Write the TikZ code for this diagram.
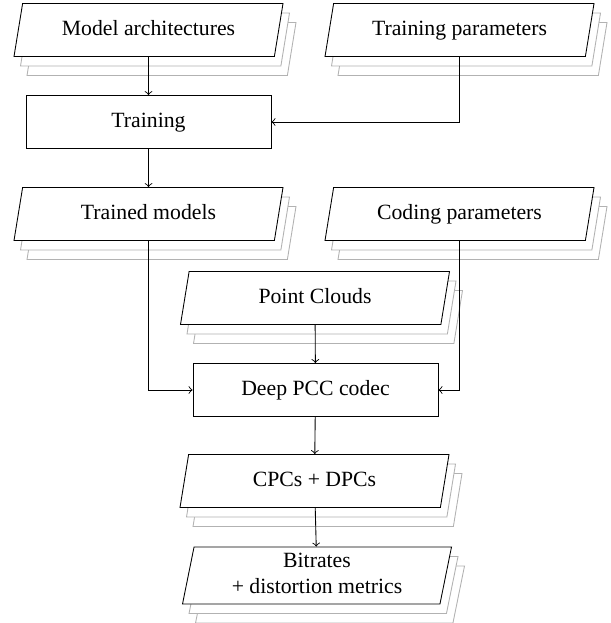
\documentclass[tikz,border=0pt]{standalone}
\usepackage{fontspec}
\setmainfont{Liberation Serif}
\usetikzlibrary{shapes.geometric,shadows}
\newlength\pxu \setlength\pxu{0.46pt}
\begin{document}
\begin{tikzpicture}[x=\pxu,y=-\pxu,
 io/.style={trapezium, trapezium left angle=78, trapezium right angle=102,
   trapezium stretches body, draw, fill=white, line width=0.4pt,
   minimum width=269\pxu, minimum height=53\pxu, align=center,
   double copy shadow={shadow xshift=6.5\pxu, shadow yshift=-9.5\pxu, draw=black!30, fill=white}},
 proc/.style={rectangle, draw, fill=white, minimum width=245\pxu, minimum height=53\pxu},
 conn/.style={->}]
\useasboundingbox (0,0) rectangle (611,623);
\node[io] (ma) at (148.5,30) {\strut Model architectures};
\node[io] (tp) at (459.5,30) {\strut Training parameters};
\node[proc] (tr) at (148.5,122) {\strut Training};
\node[io] (tm) at (148.5,214) {\strut Trained models};
\node[io] (cp) at (459.5,214) {\strut Coding parameters};
\node[io] (pc) at (315,298) {\strut Point Clouds};
\node[proc] (dp) at (315.5,390) {\strut Deep PCC codec};
\node[io] (cd) at (314.5,481) {\strut CPCs + DPCs};
\node[io, minimum height=57\pxu, inner ysep=0.5pt] (br) at (317,575.5) {\strut Bitrates\\\strut + distortion metrics};
\draw[conn] (ma) -- (tr);
\draw[conn] (tp.south) |- (tr.east);
\draw[conn] (tr) -- (tm);
\draw[conn] (tm.south) |- (dp.west);
\draw[conn] (cp.south) |- (dp.east);
\draw[conn] (pc) -- (dp);
\draw[conn] (dp) -- (cd);
\draw[conn] (cd) -- (br);
\end{tikzpicture}
\end{document}
